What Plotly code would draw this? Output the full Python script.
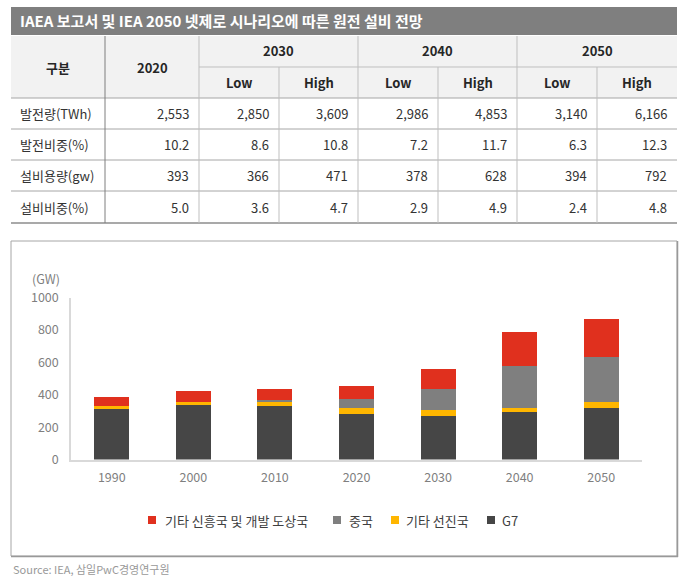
import plotly.graph_objects as go

W, H = 687, 583

# ---------------- data ----------------
title_text = "IAEA 보고서 및 IEA 2050 넷제로 시나리오에 따른 원전 설비 전망"

table_years = ["2030", "2040", "2050"]
table_sub = ["Low", "High"]
row_labels = ["발전량(TWh)", "발전비중(%)", "설비용량(gw)", "설비비중(%)"]
row_2020 = ["2,553", "10.2", "393", "5.0"]
row_values = [
    ["2,850", "3,609", "2,986", "4,853", "3,140", "6,166"],
    ["8.6", "10.8", "7.2", "11.7", "6.3", "12.3"],
    ["366", "471", "378", "628", "394", "792"],
    ["3.6", "4.7", "2.9", "4.9", "2.4", "4.8"],
]

years = ["1990", "2000", "2010", "2020", "2030", "2040", "2050"]
g7 = [317, 336, 329, 282, 269, 294, 318]
other_adv = [12, 20, 31, 36, 37, 24, 38]
china = [0, 0, 6, 56, 130, 260, 278]
other_emerging = [56, 68, 70, 81, 124, 211, 235]

series_names = ["G7", "기타 선진국", "중국", "기타 신흥국 및 개발 도상국"]
series_values = [g7, other_adv, china, other_emerging]
series_colors = ["#464646", "#FFB600", "#7F7F7F", "#E0301E"]

y_ticks = [0, 200, 400, 600, 800, 1000]
source_text = "Source: IEA, 삼일PwC경영연구원"

FONT = "Noto Sans CJK KR"


def px(x):
    return x / W


def py(y):
    return 1 - y / H


fig = go.Figure()

for name, vals, col in zip(series_names, series_values, series_colors):
    fig.add_trace(go.Bar(x=years, y=vals, name=name, marker_color=col,
                         marker_line_width=0, showlegend=False))

shapes = []
annotations = []

# title bar
shapes.append(dict(type="rect", xref="paper", yref="paper", x0=px(11), x1=px(677),
                   y0=py(35), y1=py(7), fillcolor="#7F7F7F", line_width=0, layer="below"))
annotations.append(dict(xref="paper", yref="paper", x=px(18), y=py(21), text="<b>" + title_text + "</b>",
                        showarrow=False, xanchor="left", yanchor="middle",
                        font=dict(family=FONT, size=15, color="white")))

# table header background
shapes.append(dict(type="rect", xref="paper", yref="paper", x0=px(11), x1=px(677),
                   y0=py(98), y1=py(36), fillcolor="#F2F2F2", line_width=0, layer="below"))

col_edges = [11, 105, 199, 279, 358, 438, 517, 597, 677]
row_edges = [98, 129, 160, 191, 223]
grid = "#A6A6A6"


def hline(y, x0, x1, color=grid, w=1):
    shapes.append(dict(type="line", xref="paper", yref="paper", x0=px(x0), x1=px(x1),
                       y0=py(y), y1=py(y), line=dict(color=color, width=w)))


def vline(x, y0, y1, color=grid, w=1):
    shapes.append(dict(type="line", xref="paper", yref="paper", x0=px(x), x1=px(x),
                       y0=py(y0), y1=py(y1), line=dict(color=color, width=w)))


hline(67, 199, 677, "#BFBFBF")
for y in row_edges[:-1]:
    hline(y, 11, 677)
hline(223, 11, 677, "#8C8C8C", 1.5)
vline(105, 36, 223, "#7F7F7F")
for x in [199, 358, 517]:
    vline(x, 36, 223, "#BFBFBF")
for x in [279, 438, 597]:
    vline(x, 67, 223, "#BFBFBF")

hdr_font = dict(family=FONT, size=13, color="#262626")
body_font = dict(family=FONT, size=13, color="#333333")


def txt(x, y, s, font, anchor="center"):
    annotations.append(dict(xref="paper", yref="paper", x=px(x), y=py(y), text=s,
                            showarrow=False, xanchor=anchor, yanchor="middle", font=font))


txt(58, 67, "<b>구분</b>", hdr_font)
txt(152, 67, "<b>2020</b>", hdr_font)
for i, yr in enumerate(table_years):
    x0 = col_edges[2 + 2 * i]
    x1 = col_edges[4 + 2 * i]
    txt((x0 + x1) / 2, 51, "<b>" + yr + "</b>", hdr_font)
    for j, s in enumerate(table_sub):
        a = col_edges[2 + 2 * i + j]
        b = col_edges[3 + 2 * i + j]
        txt((a + b) / 2, 82, "<b>" + s + "</b>", hdr_font)

for r, lab in enumerate(row_labels):
    yc = (row_edges[r] + row_edges[r + 1]) / 2
    txt(18, yc, lab, body_font, "left")
    txt(col_edges[2] - 8, yc, row_2020[r], body_font, "right")
    for c, v in enumerate(row_values[r]):
        txt(col_edges[3 + c] - 8, yc, v, body_font, "right")

# chart box
shapes.append(dict(type="rect", xref="paper", yref="paper", x0=px(11), x1=px(677),
                   y0=py(556), y1=py(241), line=dict(color="#A6A6A6", width=1), layer="below"))
vline(677.5, 241, 557, "#999999", 1.5)
hline(556.5, 11, 678, "#999999", 1.5)

# (GW) unit label
txt(62, 278, "(GW)", dict(family=FONT, size=12.5, color="#7F7F7F"), "right")

# legend (manual)
legend_items = [(3, 148, 163), (2, 333, 347), (1, 391, 404), (0, 487, 500)]
for idx, sx, tx in legend_items:
    shapes.append(dict(type="rect", xref="paper", yref="paper", x0=px(sx), x1=px(sx + 8),
                       y0=py(524), y1=py(516), fillcolor=series_colors[idx], line_width=0))
    txt(tx, 520, series_names[idx], dict(family=FONT, size=13, color="#404040"), "left")

# source
txt(11, 569, source_text, dict(family=FONT, size=11, color="#999999"), "left")

fig.update_layout(
    template="none",
    width=W, height=H,
    margin=dict(l=0, r=0, t=0, b=0, pad=0),
    paper_bgcolor="white", plot_bgcolor="white",
    barmode="stack", bargap=0.57,
    shapes=shapes, annotations=annotations,
    showlegend=False,
    font=dict(family=FONT),
    xaxis=dict(domain=[px(71), px(642)], showline=True, linecolor="#D9D9D9", linewidth=1.5,
               ticks="", showgrid=False, zeroline=False, automargin=False,
               tickfont=dict(family=FONT, size=12.5, color="#7F7F7F"),
               ticklabelstandoff=6),
    yaxis=dict(domain=[py(459.5), py(297.7)], range=[0, 1000], tickvals=y_ticks,
               showline=True, linecolor="#D9D9D9", linewidth=1.5, showgrid=False, zeroline=False,
               ticks="", automargin=False, tickfont=dict(family=FONT, size=12.5, color="#7F7F7F"),
               ticklabelstandoff=8),
)

fig.write_html(
    "out.html",
    config={"displayModeBar": False, "responsive": False},
    post_script="document.body.style.margin='0';document.body.style.padding='0';"
                "document.documentElement.style.overflow='hidden';",
)
